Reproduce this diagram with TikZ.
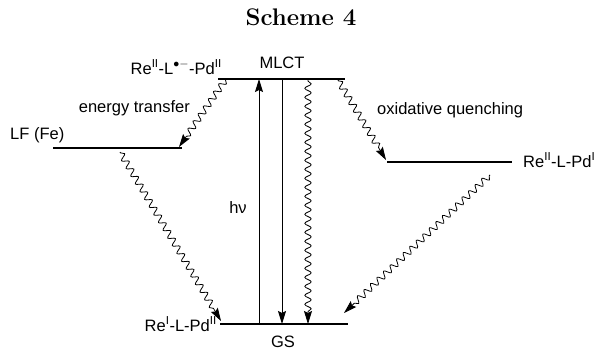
\documentclass[tikz,border=0pt]{standalone}
\usepackage{fontspec}
\newfontfamily\labelfont{Liberation Sans}
\usetikzlibrary{arrows.meta,decorations.pathmorphing}

\tikzset{
  level/.style={line width=1.1pt},
  straight/.style={line width=0.9pt,-{Stealth[length=13pt,width=8pt,inset=2pt]}},
  wavy/.style={line width=0.8pt,-{Stealth[length=13pt,width=8pt,inset=2pt]},decorate,
    decoration={snake,amplitude=3.2pt,segment length=9pt,pre length=1pt,post length=12pt}},
  lbl/.style={font=\labelfont\fontsize{16.5}{18}\selectfont,inner sep=0pt}
}

\begin{document}
\begin{tikzpicture}[x=1pt,y=-1pt]
  \useasboundingbox (0,0) rectangle (600,354);

  \node[font=\fontsize{24}{26}\selectfont\bfseries] (title) at (301,17) {Scheme 4};

  % levels
  \coordinate (mlctL) at (218,79);  \coordinate (mlctR) at (345,79);
  \coordinate (lfL) at (53,148);    \coordinate (lfR) at (182,148);
  \coordinate (oxL) at (387,162);   \coordinate (oxR) at (512,162);
  \coordinate (gsL) at (220,324);   \coordinate (gsR) at (348,324);
  \draw[level] (mlctL) -- (mlctR);
  \draw[level] (lfL) -- (lfR);
  \draw[level] (oxL) -- (oxR);
  \draw[level] (gsL) -- (gsR);

  % labels
  \node[lbl] (mlct) at (282,63) {MLCT};
  \node[lbl,anchor=east] (reLrad) at (222,67) {Re\textsuperscript{II}-L\textsuperscript{$\bullet-$}-Pd\textsuperscript{II}};
  \node[lbl,anchor=east] (entr) at (190,108) {energy transfer};
  \node[lbl,anchor=west] (lf) at (10,135) {LF (Fe)};
  \node[lbl,anchor=west] (oxq) at (377,110) {oxidative quenching};
  \node[lbl,anchor=west] (rePdI) at (523,160) {Re\textsuperscript{II}-L-Pd\textsuperscript{I}};
  \node[lbl,anchor=east] (rePdII) at (217,324) {Re\textsuperscript{I}-L-Pd\textsuperscript{II}};
  \node[lbl] (gs) at (283,342) {GS};
  \node[lbl] (hv) at (238,208) {hν};

  % transitions
  \coordinate (hvB) at (259,324);  \coordinate (hvT) at (259,79);
  \coordinate (emT) at (282,79);   \coordinate (emB) at (282,324);
  \coordinate (nrT) at (308,80);   \coordinate (nrB) at (308,324);
  \coordinate (etS) at (226,79);   \coordinate (etE) at (179,147);
  \coordinate (oqS) at (338,80);   \coordinate (oqE) at (386,160);
  \coordinate (lfS) at (120,152);  \coordinate (lfE) at (221,321);
  \coordinate (oxS) at (490,175);  \coordinate (oxE) at (344,313);

  \draw[straight] (hvB) -- (hvT);
  \draw[straight] (emT) -- (emB);
  \draw[wavy] (nrT) -- (nrB);
  \draw[wavy] (etS) -- (etE);
  \draw[wavy] (oqS) -- (oqE);
  \draw[wavy] (lfS) -- (lfE);
  \draw[wavy] (oxS) -- (oxE);
\end{tikzpicture}
\end{document}
